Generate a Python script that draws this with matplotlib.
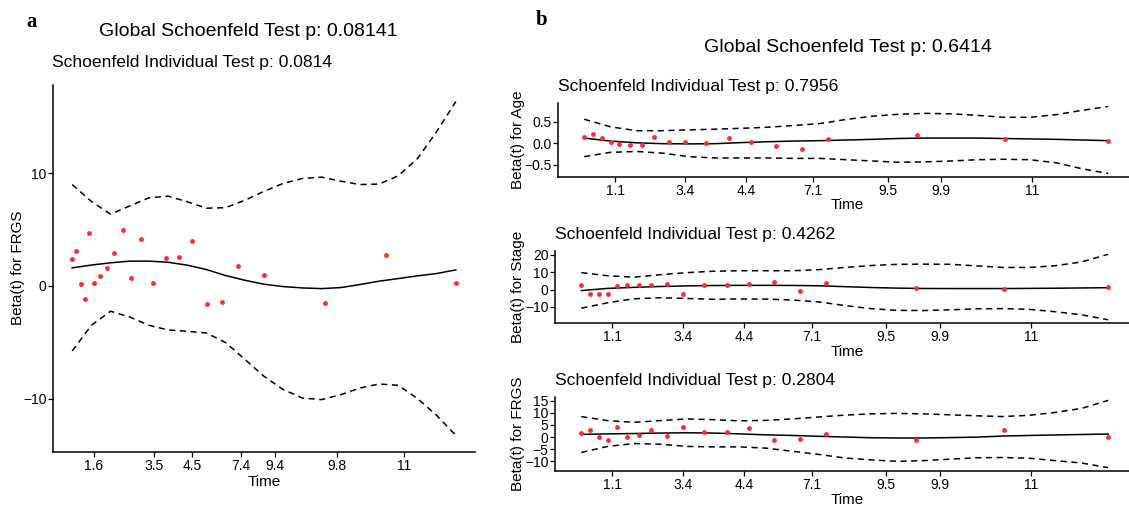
import matplotlib
matplotlib.use("Agg")
import matplotlib.pyplot as plt

plt.rcParams['font.family'] = ['Liberation Sans', 'DejaVu Sans']

W, H = 1129, 505

# ---- panel a data (x is the transformed time scale, 0..100) ----
a_time = [0, 1.1, 2.3, 3.4, 4.5, 5.8, 7.3, 9.0, 11.0, 13.2, 15.4, 18.0, 21.1,
          24.4, 27.9, 31.3, 35.1, 39.1, 43.3, 49.9, 65.8, 81.9, 100]
a_beta = [2.37, 3.08, 0.21, -1.13, 4.68, 0.30, 0.86, 1.63, 2.96, 4.98, 0.74,
          4.18, 0.30, 2.52, 2.61, 4.0, -1.57, -1.45, 1.75, 0.98, -1.48, 2.78, 0.30]

curve_t = [0, 5, 10, 15, 20, 25, 30, 35, 40, 45, 50, 55, 60, 65, 70, 75, 80,
           85, 90, 95, 100]
a_fit = [1.6, 1.85, 2.05, 2.2, 2.2, 2.1, 1.84, 1.45, 0.92, 0.5, 0.15, -0.06,
         -0.18, -0.24, -0.15, 0.12, 0.42, 0.65, 0.89, 1.1, 1.42]
a_upper = [9.0, 7.5, 6.37, 7.1, 7.82, 7.97, 7.47, 6.9, 6.95, 7.6, 8.4, 9.1,
           9.54, 9.66, 9.3, 9.0, 9.04, 9.78, 11.3, 13.7, 16.36]
a_lower = [-5.78, -3.5, -2.25, -2.76, -3.5, -3.91, -4.03, -4.18, -5.04, -6.52,
           -8.03, -9.2, -9.96, -10.1, -9.66, -9.07, -8.71, -8.83, -10.0, -11.5,
           -13.27]

a_tick_pos = [5.6, 21.4, 31.3, 43.9, 52.8, 68.9, 86.5]
a_tick_lab = ['1.6', '3.5', '4.5', '7.4', '9.4', '9.8', '11']

# ---- panel b data ----
b_time = [0, 1.7, 3.4, 5.1, 6.7, 8.7, 11.0, 13.3, 16.2, 19.3, 23.3, 27.6,
          31.8, 36.6, 41.5, 46.5, 63.5, 80.3, 100]
age_beta = [0.14, 0.22, 0.12, 0.04, -0.02, -0.05, -0.05, 0.15, 0.02, 0.02,
            0.01, 0.11, 0.03, -0.07, -0.14, 0.10, 0.19, 0.09, 0.06]
stage_beta = [2.83, -2.64, -2.64, -2.64, 2.26, 2.64, 2.64, 2.64, 3.2, -2.64,
              2.64, 2.83, 3.4, 4.5, -0.94, 3.96, 0.94, 0.38, 1.32]
frgs_beta = [1.78, 2.73, 0.0, -1.37, 4.1, 0.0, 0.68, 2.73, 0.41, 3.96, 2.05,
             2.05, 3.55, -1.23, -0.96, 1.09, -1.37, 2.73, 0.14]

age_fit = [0.12, 0.05, 0.01, -0.01, -0.015, -0.01, 0.015, 0.035, 0.05, 0.06,
           0.075, 0.09, 0.11, 0.12, 0.12, 0.12, 0.11, 0.10, 0.09, 0.075, 0.06]
age_upper = [0.555, 0.38, 0.29, 0.29, 0.31, 0.325, 0.345, 0.37, 0.41, 0.455,
             0.55, 0.625, 0.67, 0.69, 0.68, 0.645, 0.60, 0.60, 0.66, 0.76, 0.85]
age_lower = [-0.31, -0.21, -0.19, -0.23, -0.31, -0.34, -0.34, -0.34, -0.35,
             -0.35, -0.38, -0.41, -0.44, -0.43, -0.41, -0.38, -0.37, -0.38,
             -0.45, -0.59, -0.70]

stage_fit = [-0.57, 0.7, 1.3, 1.8, 2.15, 2.35, 2.45, 2.45, 2.4, 2.2, 1.7, 1.2,
             0.85, 0.65, 0.6, 0.6, 0.6, 0.7, 0.8, 0.95, 1.1]
stage_upper = [9.8, 8.0, 7.2, 8.6, 9.8, 10.6, 10.9, 10.9, 10.9, 11.5, 12.8,
               13.9, 14.6, 14.7, 14.6, 13.7, 12.8, 12.8, 13.8, 16.0, 20.4]
stage_lower = [-10.75, -7.6, -5.3, -4.7, -5.1, -5.6, -5.4, -5.5, -6.0, -7.1,
               -9.2, -11.0, -12.0, -12.1, -11.7, -11.1, -11.0, -11.4, -12.8,
               -14.6, -17.4]

frgs_fit = [1.1, 1.3, 1.45, 1.64, 1.75, 1.65, 1.3, 0.9, 0.65, 0.3, 0.0, -0.3,
            -0.41, -0.41, -0.25, -0.05, 0.4, 0.65, 0.85, 1.05, 1.23]
frgs_upper = [8.47, 6.8, 6.1, 6.8, 7.5, 7.2, 6.7, 6.9, 7.5, 8.3, 9.1, 9.6, 9.8,
              9.6, 9.2, 8.8, 8.5, 9.0, 10.2, 11.9, 15.2]
frgs_lower = [-6.4, -3.9, -2.7, -3.0, -3.9, -4.1, -4.1, -4.6, -5.9, -7.2, -8.7,
              -9.5, -10.1, -9.8, -9.2, -8.6, -8.5, -8.8, -9.8, -10.8, -12.7]

b_tick_pos = [5.9, 19.3, 30.9, 43.7, 57.9, 68.1, 85.4]
b_tick_lab = ['1.1', '3.4', '4.4', '7.1', '9.5', '9.9', '11']


fig = plt.figure(figsize=(W / 100, H / 100), dpi=100)


def px_axes(left, top, right, bottom):
    return fig.add_axes([left / W, 1 - bottom / H, (right - left) / W, (bottom - top) / H])


def ftext(x, y, s, **kw):
    fig.text(x / W, 1 - y / H, s, **kw)


def draw_panel(ax, t, beta, fit, upper, lower, ylim, yticks, ticks, labels):
    ax.plot(curve_t, fit, color='black', lw=1.1)
    ax.plot(curve_t, upper, color='black', lw=1.1, dashes=(4, 3))
    ax.plot(curve_t, lower, color='black', lw=1.1, dashes=(4, 3))
    ax.scatter(t, beta, s=12, color='#FF2A2A', zorder=3, linewidths=0)
    ax.set_xlim(-5, 105)
    ax.set_ylim(*ylim)
    ax.set_yticks(yticks)
    ax.set_xticks(ticks)
    ax.set_xticklabels(labels)
    for side in ['top', 'right']:
        ax.spines[side].set_visible(False)
    for side in ['left', 'bottom']:
        ax.spines[side].set_linewidth(1.1)
    ax.tick_params(length=3.5, width=0.9, pad=1.2, labelsize=10, colors='black')


# panel a
ax = px_axes(53, 85, 475, 452)
draw_panel(ax, a_time, a_beta, a_fit, a_upper, a_lower, (-14.75, 17.84),
           [-10, 0, 10], a_tick_pos, a_tick_lab)
ftext(32, 22, 'a', family='Liberation Serif', weight='bold', fontsize=15,
      ha='center', va='center')
ftext(248, 31, 'Global Schoenfeld Test p: 0.08141', fontsize=14, ha='center', va='center')
ftext(52, 63, 'Schoenfeld Individual Test p: 0.0814', fontsize=12.6, ha='left', va='center')
ftext(18, 268, 'Beta(t) for FRGS', fontsize=11, rotation=90, ha='center', va='center')
ftext(264, 482, 'Time', fontsize=11, ha='center', va='center')

# panel b
ftext(542, 20, 'b', family='Liberation Serif', weight='bold', fontsize=15,
      ha='center', va='center')
ftext(848, 48, 'Global Schoenfeld Test p: 0.6414', fontsize=14, ha='center', va='center')

panels = [
    (558, 103, 177, 'Age', age_beta, age_fit, age_upper, age_lower,
     (-0.78, 0.93), [-0.5, 0, 0.5], '0.7956'),
    (555, 251, 323, 'Stage', stage_beta, stage_fit, stage_upper, stage_lower,
     (-19.3, 22.3), [-10, 0, 10, 20], '0.4262'),
    (555, 397, 471, 'FRGS', frgs_beta, frgs_fit, frgs_upper, frgs_lower,
     (-14.1, 16.6), [-10, -5, 0, 5, 10, 15], '0.2804'),
]
for left, top, bottom, name, beta, fit, up, lo, ylim, yt, p in panels:
    ax = px_axes(left, top, 1134.5, bottom)
    draw_panel(ax, b_time, beta, fit, up, lo, ylim, yt, b_tick_pos, b_tick_lab)
    if name == 'Age':
        ax.set_yticklabels(['\u22120.5', '0.0', '0.5'])
    ftext(left, top - 17, 'Schoenfeld Individual Test p: ' + p, fontsize=12.6,
          ha='left', va='center')
    ftext(518, (top + bottom) / 2, 'Beta(t) for ' + name, fontsize=11,
          rotation=90, ha='center', va='center')
    ftext(847, bottom + 28.5, 'Time', fontsize=11, ha='center', va='center')

fig.savefig('out.png', dpi=100)
